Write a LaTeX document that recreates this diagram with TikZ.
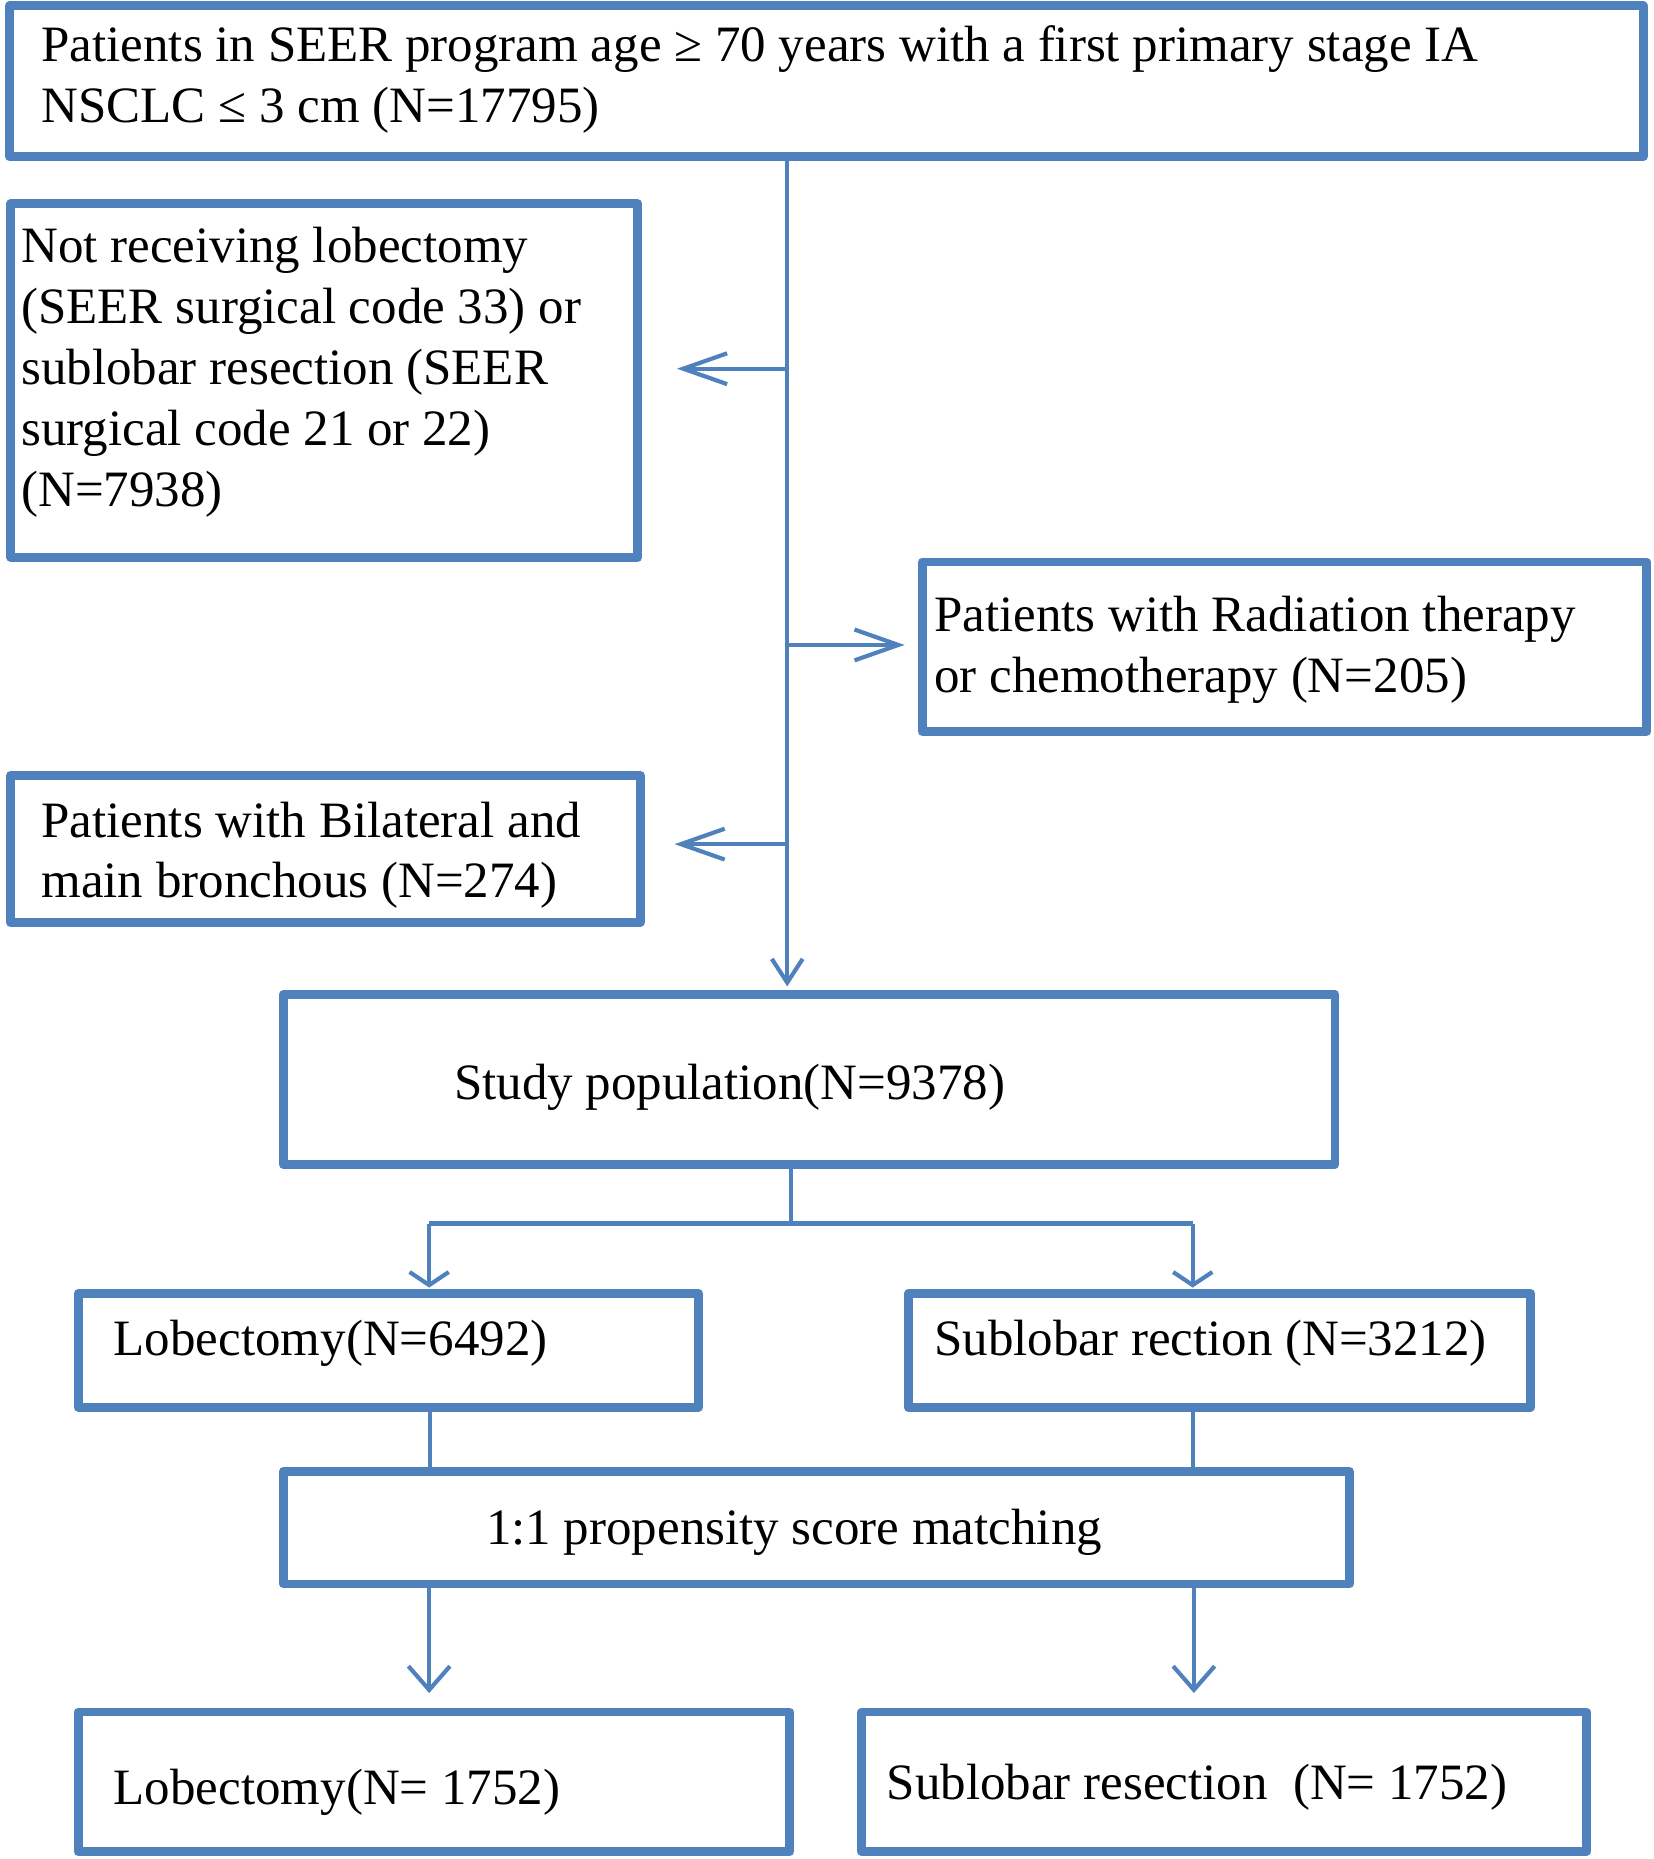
\documentclass[tikz,border=0pt]{standalone}
\usepackage{fontspec}
\setmainfont{Liberation Serif}
\usetikzlibrary{arrows.meta}
\definecolor{ob}{RGB}{79,129,189}
\begin{document}
\begin{tikzpicture}[x=1pt,y=-1pt,
  box/.style={draw=ob, line width=7.5pt, line join=round, rectangle, inner sep=0pt, outer sep=0pt},
  conn/.style={draw=ob, line width=3.5pt},
  txt/.style={anchor=base west, inner sep=0pt, outer sep=0pt, font=\fontsize{43}{52}\selectfont},
  sidetip/.style={-{Straight Barb[length=37pt,width=26pt]}},
  maintip/.style={-{Straight Barb[length=20pt,width=26pt]}},
  splittip/.style={-{Straight Barb[length=11pt,width=33pt]}},
  bottip/.style={-{Straight Barb[length=20pt,width=35pt]}}
]
\useasboundingbox (0,0) rectangle (1395,1568);

% boxes
\node[box, minimum width=1378pt, minimum height=127pt] (b1) at (697,68.5) {};
\node[box, minimum width=529pt, minimum height=298pt] (b2) at (273.5,321) {};
\node[box, minimum width=611pt, minimum height=143pt] (b3) at (1083.5,545.5) {};
\node[box, minimum width=531pt, minimum height=124pt] (b4) at (274.5,716) {};
\node[box, minimum width=887pt, minimum height=143pt] (b5) at (682.5,910.5) {};
\node[box, minimum width=523pt, minimum height=96pt] (b6) at (327.5,1139) {};
\node[box, minimum width=525pt, minimum height=96pt] (b7) at (1028.5,1139) {};
\node[box, minimum width=899pt, minimum height=95pt] (b8) at (688.5,1288.5) {};
\node[box, minimum width=600pt, minimum height=118pt] (b9) at (366,1503) {};
\node[box, minimum width=611pt, minimum height=118pt] (b10) at (1032.5,1503) {};

% texts
\node[txt] (t1a) at (35,52) {Patients in SEER program age ≥ 70 years with a first primary stage IA};
\node[txt] (t1b) at (35,103) {NSCLC ≤ 3 cm (N=17795)};
\node[txt] (t2a) at (18,221) {Not receiving lobectomy};
\node[txt] (t2b) at (18,272.5) {(SEER surgical code 33) or};
\node[txt] (t2c) at (18,324) {sublobar resection (SEER};
\node[txt] (t2d) at (18,375.5) {surgical code 21 or 22)};
\node[txt] (t2e) at (18,427) {(N=7938)};
\node[txt] (t3a) at (788,533) {Patients with Radiation therapy};
\node[txt] (t3b) at (788,584) {or chemotherapy (N=205)};
\node[txt] (t4a) at (35,706) {Patients with Bilateral and};
\node[txt] (t4b) at (35,757) {main bronchous (N=274)};
\node[txt] (t5) at (383,927) {Study population(N=9378)};
\node[txt] (t6) at (96,1143) {Lobectomy(N=6492)};
\node[txt] (t7) at (788,1143) {Sublobar rection (N=3212)};
\node[txt] (t8) at (410,1303) {1:1 propensity score matching};
\node[txt] (t9) at (96,1522) {Lobectomy(N= 1752)};
\node[txt] (t10) at (748,1518) {Sublobar resection\ \ (N= 1752)};

% connector coordinates
\coordinate (sp) at (664,0);
\coordinate (j1) at (664,311);
\coordinate (e1) at (571,311);
\coordinate (j2) at (664,544);
\coordinate (e2) at (763,544);
\coordinate (j3) at (664,712);
\coordinate (e3) at (569,712);
\coordinate (mend) at (664,832);
\coordinate (s5) at (667,0);
\coordinate (hb) at (667,1032);
\coordinate (hl) at (362,1032);
\coordinate (hr) at (1006,1032);
\coordinate (al) at (362,1086);
\coordinate (ar) at (1006,1086);
\coordinate (l6) at (363,0);
\coordinate (l7) at (1006,0);
\coordinate (pl) at (362,0);
\coordinate (pr) at (1007,0);
\coordinate (pla) at (362,1428);
\coordinate (pra) at (1007,1428);

% main spine
\draw[conn, maintip] (b1.south -| sp) -- (mend);
\draw[conn, sidetip] (j1) -- (e1);
\draw[conn, sidetip] (j2) -- (e2);
\draw[conn, sidetip] (j3) -- (e3);

% split
\draw[conn] (b5.south -| s5) -- (hb);
\draw[conn] (hl) -- (hr);
\draw[conn, splittip] (hl) -- (al);
\draw[conn, splittip] (hr) -- (ar);

% to matching
\draw[conn] (b6.south -| l6) -- (b8.north -| l6);
\draw[conn] (b7.south -| l7) -- (b8.north -| l7);

% to final
\draw[conn, bottip] (b8.south -| pl) -- (pla);
\draw[conn, bottip] (b8.south -| pr) -- (pra);
\end{tikzpicture}
\end{document}
